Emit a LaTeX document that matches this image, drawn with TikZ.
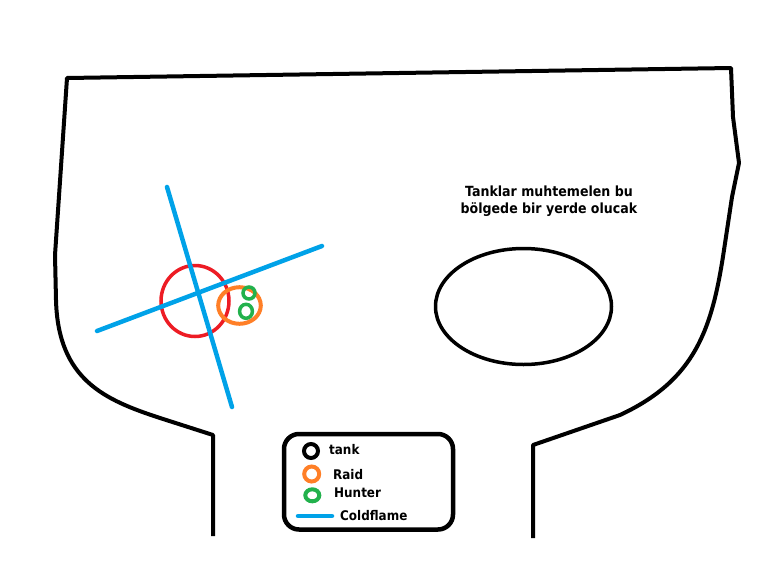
\documentclass[tikz,border=0pt]{standalone}
\usepackage{fontspec}
\setmainfont{DejaVu Sans Condensed}
\usetikzlibrary{positioning}
\definecolor{paintred}{RGB}{237,28,36}
\definecolor{paintorange}{RGB}{255,127,39}
\definecolor{paintgreen}{RGB}{34,177,76}
\definecolor{paintblue}{RGB}{0,162,232}

\begin{document}
\begin{tikzpicture}[x=1pt, y=-1pt,
  every node/.style={font=\bfseries\fontsize{13.3}{15}\selectfont, inner sep=0pt},
  outline/.style={draw=black, line width=4pt, line join=round},
  coldflame/.style={draw=paintblue, line width=4.5pt, line cap=round},
  ring/.style={line width=3.5pt},
  legendtext/.style={anchor=base west},
]
\useasboundingbox (0,0) rectangle (769,568);

% room outline
\draw[outline] (213,536) -- (213,435) -- (160,418)
  .. controls (105,400) and (58,380) .. (56,300) -- (55,255) -- (67,78)
  -- (731,68) -- (733,117) -- (739,163) -- (732,197) -- (724,250)
  .. controls (712,330) and (695,380) .. (620,415) -- (533,445) -- (533,538);

% tank zone
\draw[ring] (523.5,306.5) ellipse [x radius=88pt, y radius=58pt];
\node[align=center, font=\bfseries\fontsize{14}{17}\selectfont, anchor=base]
  (tanknote) at (549,213) {Tanklar muhtemelen bu\\bölgede bir yerde olucak};

% positions
\draw[ring, draw=paintred] (195,301) circle [x radius=34pt, y radius=35.5pt];
\draw[ring, draw=paintorange, line width=4pt] (239.5,305.5) ellipse [x radius=21.3pt, y radius=18.3pt];
\draw[ring, draw=paintgreen] (249,293) circle [radius=6pt];
\draw[ring, draw=paintgreen] (246,311.3) ellipse [x radius=6.4pt, y radius=7pt];
\draw[coldflame] (167,187) -- (232,407);
\draw[coldflame] (97,331) -- (322,246);

% legend
\draw[rounded corners=15pt, line width=4.5pt] (284,434) rectangle (453,529.5);
\draw[ring, line width=4pt] (311,451) circle [radius=7pt];
\draw[ring, draw=paintorange, line width=4pt] (311.7,474) circle [radius=7.5pt];
\draw[ring, draw=paintgreen, line width=4pt] (312.3,495.3) ellipse [x radius=7pt, y radius=6pt];
\draw[coldflame] (298,516) -- (332,516);
\node[legendtext] (tanklabel)   at (329,454) {tank};
\node[legendtext] (raidlabel)   at (333,479) {Raid};
\node[legendtext] (hunterlabel) at (334,497) {Hunter};
\node[legendtext] (coldlabel)   at (340,520) {Coldflame};
\end{tikzpicture}
\end{document}
